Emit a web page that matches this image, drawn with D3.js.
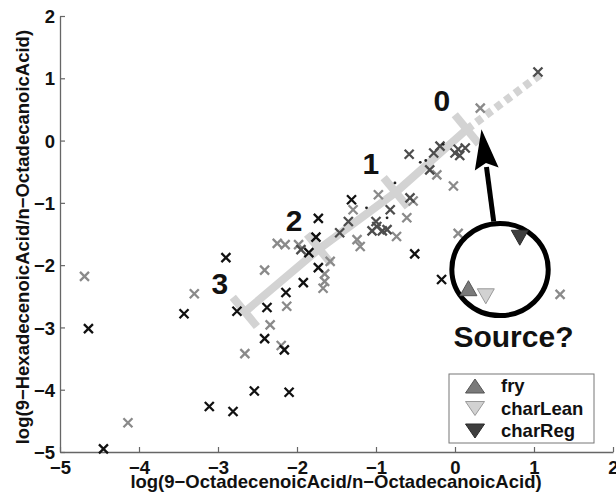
<!DOCTYPE html>
<html>
<head>
<meta charset="utf-8">
<script src="https://cdn.jsdelivr.net/npm/d3@7"></script>
<style>
  html, body { margin: 0; padding: 0; background: #fff; }
  svg { display: block; }
  text { font-family: "Liberation Sans", Arial, Helvetica, sans-serif; font-weight: bold; }
</style>
</head>
<body>
<svg id="chart" width="616" height="497"></svg>
<script>
// ---- data (log ratios) ----
const xTicks = [-5, -4, -3, -2, -1, 0, 1, 2];
const yTicks = [-5, -4, -3, -2, -1, 0, 1, 2];

// sample groups drawn as crosses
const blackX = [-4.64, -4.45, -3.43, -2.90, -3.11, -2.81, -2.76, -2.41, -2.38, -2.54, -2.10, -2.14, -2.16, -1.92, -1.73, -1.76, -1.85, -1.73, -1.31, -0.51, -0.17];
const blackY = [-3.02, -4.95, -2.78, -1.88, -4.27, -4.35, -2.74, -3.18, -2.68, -4.02, -4.04, -2.44, -3.36, -2.28, -1.25, -1.55, -1.80, -2.04, -0.95, -1.82, -2.23];

const darkX = [1.05, -0.58, -0.19, -0.27, 0.00, 0.06, 0.13, 0.04, -0.32, -0.57, -0.82, -1.00, -0.92, -1.05, -1.95, -1.46, -0.99, -0.86, -1.35];
const darkY = [1.10, -0.22, -0.09, -0.20, -0.20, -0.24, -0.12, -0.14, -0.47, -0.92, -1.11, -1.30, -1.45, -1.45, -1.75, -1.48, -1.38, -1.43, -1.30];

const grayX = [-4.69, -4.14, -3.30, -2.66, -2.41, -2.34, -2.13, -2.20, -2.25, -2.15, -1.98, -1.65, -1.65, -1.67, -1.58, -0.97, -0.53, -0.61, -0.74, -0.23, -0.02, 0.04, 0.32, 1.33, -1.29, -1.24, -1.20];
const grayY = [-2.18, -4.53, -2.46, -3.42, -2.08, -2.96, -2.66, -3.29, -1.65, -1.67, -1.67, -2.14, -2.26, -2.37, -1.94, -0.87, -0.97, -1.24, -1.54, -0.55, -0.73, -1.49, 0.52, -2.47, -1.11, -1.59, -1.70];

// small dot markers near the mixing line
const dotX = [-0.44, -0.37, -0.76, -1.12, -0.86, -0.15];
const dotY = [-0.35, -0.32, -0.68, -1.08, -1.24, -0.06];

// mixing line with numbered steps
const stepLabels = ["3", "2", "1", "0"];
const stepX = [-2.66, -1.72, -0.75, 0.15];
const stepY = [-2.75, -1.74, -0.83, 0.18];
const extendX = [0.15, 1.08];
const extendY = [0.18, 1.06];

// source samples
const sourceNames = ["fry", "charLean", "charReg"];
const sourceX = [0.17, 0.39, 0.82];
const sourceY = [-2.37, -2.50, -1.56];
const sourceShape = ["up", "down", "down"];
const sourceFill = ["#7a7a7a", "#d2d2d2", "#3e3e3e"];
const sourceStroke = ["#555", "#9a9a9a", "#2a2a2a"];

// annotation: circle around sources, arrow toward mixing line end
const ringCenter = [0.57, -2.07];
const ringRadius = [0.61, 0.74];
const arrowFrom = [0.49, -1.30];
const arrowTo = [0.335, 0.18];
const sourceLabelAt = [0.74, -3.31];

// ---- chart ----
const svg = d3.select("#chart");
const x = d3.scaleLinear().domain([-5, 2]).range([60, 613]);
const y = d3.scaleLinear().domain([-5, 2]).range([452, 16]);
const fmt = d3.format("d");

// axes (left and bottom only, ticks pointing inward)
const axisColor = "#666";
const gx = svg.append("g").attr("transform", `translate(0,${y(-5)})`)
  .call(d3.axisBottom(x).tickValues(xTicks).tickFormat(fmt).tickSizeInner(-5).tickSizeOuter(0).tickPadding(14));
const gy = svg.append("g").attr("transform", `translate(${x(-5)},0)`)
  .call(d3.axisLeft(y).tickValues(yTicks).tickFormat(fmt).tickSizeInner(-5).tickSizeOuter(0).tickPadding(5));
[gx, gy].forEach(g => {
  g.select(".domain").attr("stroke", axisColor).attr("stroke-width", 1.3);
  g.selectAll(".tick line").attr("stroke", axisColor).attr("stroke-width", 1.2);
  g.selectAll(".tick text").attr("fill", "#111").attr("font-size", 18.5)
    .attr("font-family", "Liberation Sans, Arial, sans-serif").attr("font-weight", "bold");
});
gx.selectAll(".tick text").attr("dy", null).attr("y", 22);
gy.selectAll(".tick text").attr("dy", "0.36em");

// axis titles
svg.append("text")
  .attr("x", 336).attr("y", 488)
  .attr("text-anchor", "middle").attr("font-size", 18.5).attr("fill", "#111")
  .text("log(9\u2212OctadecenoicAcid/n\u2212OctadecanoicAcid)");
svg.append("text")
  .attr("transform", `translate(29,${y(-1.55)}) rotate(-90)`)
  .attr("text-anchor", "middle").attr("font-size", 18.5).attr("fill", "#111")
  .text("log(9\u2212HexadecenoicAcid/n\u2212OctadecanoicAcid)");

// mixing line (drawn beneath the samples)
const lineColor = "#d3d3d3";
const solidPts = stepX.map((v, i) => [x(v), y(stepY[i])]);
svg.append("path")
  .attr("d", d3.line()(solidPts))
  .attr("fill", "none").attr("stroke", lineColor).attr("stroke-width", 8);
svg.append("path")
  .attr("d", d3.line()(extendX.map((v, i) => [x(v), y(extendY[i])])))
  .attr("fill", "none").attr("stroke", lineColor).attr("stroke-width", 8)
  .attr("stroke-dasharray", "7,5");

// perpendicular step bars
const p0 = solidPts[0], p3 = solidPts[solidPts.length - 1];
const dx = p3[0] - p0[0], dy = p3[1] - p0[1];
const len = Math.hypot(dx, dy);
const nx = -dy / len, ny = dx / len;
const halfBar = 19;
stepX.forEach((v, i) => {
  const cx = x(v), cy = y(stepY[i]);
  svg.append("line")
    .attr("x1", cx - nx * halfBar).attr("y1", cy - ny * halfBar)
    .attr("x2", cx + nx * halfBar).attr("y2", cy + ny * halfBar)
    .attr("stroke", lineColor).attr("stroke-width", 8);
  svg.append("text")
    .attr("x", cx - 25).attr("y", cy - 18)
    .attr("text-anchor", "middle").attr("font-size", 30).attr("fill", "#111")
    .text(stepLabels[i]);
});

// cross markers
const crossPath = "M-4.5,-4.5L4.5,4.5M-4.5,4.5L4.5,-4.5";
function crosses(xs, ys, color) {
  svg.append("g").selectAll("path").data(xs).join("path")
    .attr("d", crossPath)
    .attr("transform", (d, i) => `translate(${x(d)},${y(ys[i])})`)
    .attr("fill", "none").attr("stroke", color).attr("stroke-width", 2.3);
}
crosses(grayX, grayY, "#8a8a8a");
crosses(darkX, darkY, "#4d4d4d");
crosses(blackX, blackY, "#111");

svg.append("g").selectAll("circle").data(dotX).join("circle")
  .attr("cx", d => x(d)).attr("cy", (d, i) => y(dotY[i]))
  .attr("r", 1.4).attr("fill", "#222");

// annotation ring and arrow
svg.append("ellipse")
  .attr("cx", x(ringCenter[0])).attr("cy", y(ringCenter[1]))
  .attr("rx", x(ringCenter[0] + ringRadius[0]) - x(ringCenter[0]))
  .attr("ry", y(ringCenter[1] - ringRadius[1]) - y(ringCenter[1]))
  .attr("fill", "none").attr("stroke", "#000").attr("stroke-width", 5);

const ax0 = x(arrowFrom[0]), ay0 = y(arrowFrom[1]);
const ax1 = x(arrowTo[0]), ay1 = y(arrowTo[1]);
const adx = ax1 - ax0, ady = ay1 - ay0, alen = Math.hypot(adx, ady);
const ux = adx / alen, uy = ady / alen;
const headLen = 40, headHalf = 12;
const bx = ax1 - ux * headLen, by = ay1 - uy * headLen;
svg.append("line")
  .attr("x1", ax0).attr("y1", ay0).attr("x2", bx + ux * 2).attr("y2", by + uy * 2)
  .attr("stroke", "#000").attr("stroke-width", 5);
svg.append("path")
  .attr("d", `M${ax1},${ay1}L${bx - uy * headHalf},${by + ux * headHalf}L${bx + ux * 6},${by + uy * 6}L${bx + uy * headHalf},${by - ux * headHalf}Z`)
  .attr("fill", "#000");

svg.append("text")
  .attr("x", x(sourceLabelAt[0])).attr("y", y(sourceLabelAt[1]))
  .attr("text-anchor", "middle").attr("font-size", 30).attr("fill", "#111")
  .text("Source?");

// source triangles
function tri(shape, w, h) {
  return shape === "up"
    ? `M0,${-h / 2}L${w / 2},${h / 2}L${-w / 2},${h / 2}Z`
    : `M0,${h / 2}L${w / 2},${-h / 2}L${-w / 2},${-h / 2}Z`;
}
svg.append("g").selectAll("path").data(sourceX).join("path")
  .attr("d", (d, i) => tri(sourceShape[i], 17, 15))
  .attr("transform", (d, i) => `translate(${x(d)},${y(sourceY[i])})`)
  .attr("fill", (d, i) => sourceFill[i])
  .attr("stroke", (d, i) => sourceStroke[i]).attr("stroke-width", 1);

// legend
const lg = svg.append("g").attr("transform", "translate(449,374)");
lg.append("rect").attr("width", 145).attr("height", 69)
  .attr("fill", "#fff").attr("stroke", "#777").attr("stroke-width", 1);
sourceNames.forEach((name, i) => {
  const row = lg.append("g").attr("transform", `translate(26,${12 + i * 22.5})`);
  row.append("path").attr("d", tri(sourceShape[i], 19, 14))
    .attr("fill", sourceFill[i]).attr("stroke", sourceStroke[i]).attr("stroke-width", 1);
  row.append("text").attr("x", 26).attr("y", 0).attr("dy", "0.35em")
    .attr("font-size", 18.5).attr("fill", "#111").text(name);
});
</script>
</body>
</html>
